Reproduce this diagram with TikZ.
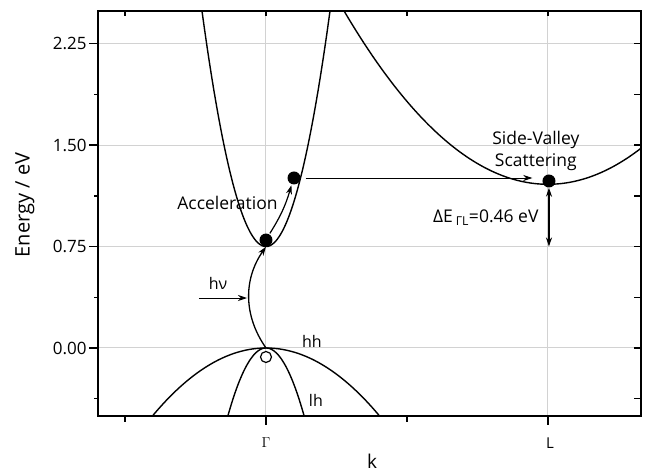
\documentclass[tikz,border=0pt]{standalone}
\usepackage{fontspec}
\setmainfont{Open Sans}
\usetikzlibrary{arrows.meta, positioning, calc}
\definecolor{gridgray}{HTML}{D2D2D2}
\def\kmin{-0.5957}
\def\kmax{1.3298}
\def\emin{-0.5026}
\def\emax{2.4908}

\begin{document}
\begin{tikzpicture}[
    x=282pt, y=135.3pt,
    band/.style={line width=1.4pt},
    frame/.style={line width=1.5pt},
    gridline/.style={gridgray,line width=1pt},
    edot/.style={circle,fill=black,inner sep=0pt,minimum size=13pt},
    hdot/.style={circle,draw=black,line width=1.2pt,fill=white,inner sep=0pt,minimum size=11pt},
    txt/.style={font=\fontsize{17.5}{22}\selectfont},
    small/.style={font=\fontsize{16}{19}\selectfont},
    ticklbl/.style={font=\fontsize{17}{20}\selectfont,anchor=east},
    arr/.style={-{Stealth[length=9pt,width=6pt]},line width=0.9pt},
  ]
    \useasboundingbox (-0.9433,-0.9387) rectangle (1.3582,2.5721);

    \foreach \e in {0,0.75,1.5,2.25}
      \draw[gridline] (\kmin,\e) -- (\kmax,\e);
    \foreach \k in {0,1}
      \draw[gridline] (\k,\emin) -- (\k,\emax);

    \begin{scope}
      \clip (\kmin,\emin) rectangle (\kmax,\emax);
      \draw[band] plot[domain=-0.24:0.24,samples=90] (\x,{0.75+33.8*(\x)^2});
      \draw[band] plot[domain=0.25:1.36,samples=110] (\x,{1.21+2.45*(\x-1)^2});
      \draw[band] plot[domain=-0.42:0.42,samples=80] (\x,{-3.1*(\x)^2});
      \draw[band] plot[domain=-0.15:0.15,samples=60] (\x,{-27.5*(\x)^2});
    \end{scope}

    \draw[frame] (\kmin,\emin) rectangle (\kmax,\emax);
    \foreach \e in {0,0.75,1.5,2.25}
      \draw[frame] (\kmin,\e) -- ++(-9pt,0);
    \foreach \e in {-0.375,0.375,1.125,1.875}
      \draw[frame] (\kmin,\e) -- ++(-4pt,0);
    \foreach \e in {-0.375,0,0.375,0.75,1.125,1.5,1.875,2.25}
      \draw[frame] (\kmax,\e) -- ++(-7pt,0);
    \foreach \k in {-0.5,0,0.5,1}
      \draw[frame] (\k,\emax) -- ++(0,-5pt);
    \foreach \k in {-0.5,0.5}
      \draw[frame] (\k,\emin) -- ++(0,-6pt);
    \foreach \k in {0,1}
      \draw[frame] (\k,\emin) -- ++(0,-9pt);

    \node[ticklbl] (e0) at (-0.624,0) {0.00};
    \node[ticklbl] (e1) at (-0.624,0.75) {0.75};
    \node[ticklbl] (e2) at (-0.624,1.5) {1.50};
    \node[ticklbl] (e3) at (-0.624,2.25) {2.25};
    \node[rotate=90,font=\fontsize{20}{24}\selectfont] (ylab) at (-0.855,1.057) {Energy / eV};
    \node[font=\fontsize{15}{18}\selectfont] (gam) at (0,-0.702) {$\Gamma$};
    \node[font=\fontsize{15}{18}\selectfont] (lpt) at (1.007,-0.702) {L};
    \node[font=\fontsize{19}{22}\selectfont,inner sep=1pt] (klab) at (0.376,-0.84) {k};

    \node[small] (hh) at (0.163,0.052) {hh};
    \node[small] (lh) at (0.177,-0.384) {lh};
    \node[small] (hv) at (-0.170,0.480) {hν};
    \node[txt] (acc) at (-0.1365,1.0717) {Acceleration};
    \node[txt,align=center] (svs) at (0.957,1.456) {Side-Valley\\Scattering};
    \node[txt,anchor=east] (dE) at (0.9787,0.9608) {ΔE\,\textsubscript{ΓL}=0.46 eV};

    \coordinate (vbm) at (0,0);
    \coordinate (Lbase) at (1.0035,0.75);
    \coordinate (hvstart) at (-0.2376,0.3695);
    \coordinate (hvend) at (-0.0674,0.3695);

    \node[hdot] (hole) at (0,-0.0665) {};
    \node[edot] (eG) at (0,0.798) {};
    \node[edot] (eA) at (0.0993,1.2565) {};
    \node[edot] (eL) at (1.0035,1.2343) {};

    \draw[arr,line width=1.3pt] (vbm) to[out=125,in=235] (eG.south);
    \draw[arr] (hvstart) -- (hvend);
    \draw[arr,line width=1.2pt,shorten <=1pt,shorten >=1pt] (eG.60) to[bend right=8] (eA.250);
    \draw[arr,shorten <=5pt,shorten >=10pt] (eA.east) -- (eA.east -| eL.west);
    \draw[{Stealth[length=9pt,width=6pt]}-{Stealth[length=9pt,width=6pt]},line width=1.2pt] (eL.south) -- (Lbase);
  \end{tikzpicture}
\end{document}
